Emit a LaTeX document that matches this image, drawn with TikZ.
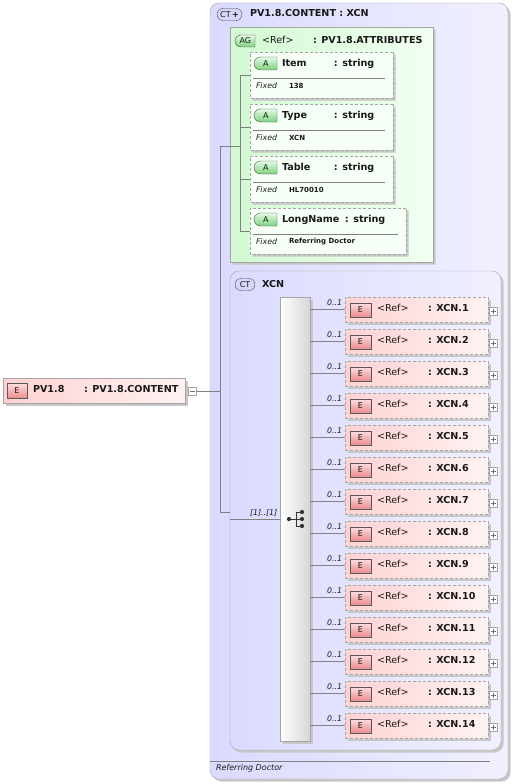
\documentclass[tikz,border=0pt]{standalone}
\usepackage{fontspec}
\setmainfont{DejaVu Sans}
\usetikzlibrary{shapes.misc,shadows}

\definecolor{ctfillA}{RGB}{218,218,255}
\definecolor{ctfillB}{RGB}{240,240,255}
\definecolor{ctbadge}{RGB}{214,214,250}
\definecolor{agfillA}{RGB}{210,250,210}
\definecolor{agfillB}{RGB}{242,255,242}
\definecolor{atfill}{RGB}{246,255,246}
\definecolor{elfillA}{RGB}{255,210,210}
\definecolor{elfillB}{RGB}{255,242,242}
\definecolor{linegray}{RGB}{128,128,128}
\definecolor{boxgray}{RGB}{165,165,165}
\definecolor{txt}{RGB}{25,25,25}

\begin{document}
\begin{tikzpicture}[x=1pt,y=-1pt]
\tikzset{ every node/.style={inner sep=0pt, outer sep=0pt, text=txt},
  shadowed/.style={drop shadow={shadow xshift=2.5pt, shadow yshift=-2.5pt, fill=black!22, opacity=1}},
  ctbox/.style={rectangle, rounded corners=9pt, draw=boxgray, left color=ctfillA, right color=ctfillB, shadowed, anchor=north west},
  agbox/.style={chamfered rectangle, chamfered rectangle corners={north west,south west}, chamfered rectangle sep=7pt, draw=boxgray, left color=agfillA, right color=agfillB, shadowed, anchor=north west},
  atbox/.style={chamfered rectangle, chamfered rectangle corners={north west,south west}, chamfered rectangle sep=6pt, draw=boxgray, dashed, dash pattern=on 3pt off 2pt, fill=atfill, shadowed, anchor=north west, minimum height=46pt},
  elbox/.style={rectangle, draw=boxgray, dashed, dash pattern=on 3pt off 2pt, left color=elfillA, right color=elfillB, shadowed, anchor=north west, minimum width=143pt, minimum height=25pt},
  seqbar/.style={rectangle, draw=boxgray, left color=white, right color=black!16, shadowed, anchor=north west},
  ctbdg/.style={rounded rectangle, draw=black!70, fill=ctbadge, minimum height=12pt, anchor=west, font=\fontsize{8}{9}\selectfont},
  abdg/.style={rounded rectangle, rounded rectangle right arc=none, draw=black!70, top color={rgb,255:red,228;green,252;blue,228}, bottom color={rgb,255:red,125;green,208;blue,125}, minimum height=13pt, anchor=west, font=\fontsize{8}{9}\selectfont},
  ebdg/.style={rectangle, draw=black!65, top color={rgb,255:red,255;green,222;blue,222}, bottom color={rgb,255:red,236;green,138;blue,138}, minimum width=21pt, minimum height=14pt, anchor=west, font=\fontsize{8}{9}\selectfont},
  lbl/.style={anchor=west, font=\fontsize{9.6}{11}\selectfont},
  lblb/.style={anchor=west, font=\fontsize{9.6}{11}\selectfont\bfseries},
  fixd/.style={anchor=west, font=\fontsize{7.8}{9}\selectfont\itshape},
  fval/.style={anchor=west, font=\fontsize{7}{8}\selectfont\bfseries},
  occ/.style={anchor=east, font=\fontsize{7.8}{9}\selectfont\itshape},
  conn/.style={draw=linegray, line width=0.6pt},
  sep/.style={draw=linegray, line width=0.5pt},
  plusbox/.style={rectangle, draw=black!35, fill=white, minimum size=8pt,
    path picture={\draw[black!55, line width=0.5pt] ([xshift=1.5pt]path picture bounding box.west) -- ([xshift=-1.5pt]path picture bounding box.east);
                  \draw[black!55, line width=0.5pt] ([yshift=1.5pt]path picture bounding box.south) -- ([yshift=-1.5pt]path picture bounding box.north);}},
  minusbox/.style={rectangle, draw=black!35, fill=white, minimum size=8pt,
    path picture={\draw[black!55, line width=0.5pt] ([xshift=1.5pt]path picture bounding box.west) -- ([xshift=-1.5pt]path picture bounding box.east);}},
}
\useasboundingbox (0,0) rectangle (514,784);

% outer complex type
\node [ctbox, minimum width=298pt, minimum height=776pt] (PVC) at (210,3) {};
\node [ctbdg, minimum width=25pt] (PVCb) at (217,14.5) {CT\,\textbf{+}};
\node [lblb] at (250,13.5) {PV1.8.CONTENT : XCN};
\draw [sep] (210,761) -- (490,761);
\node [fixd, font=\fontsize{8}{9}\selectfont\itshape] at (216,768.5) {Referring Doctor};

% attribute group
\node [agbox, minimum width=203pt, minimum height=235pt] (AG) at (230,27) {};
\node [abdg, minimum width=20pt, minimum height=12pt] (AGb) at (235,41) {AG};
\node [lbl] at (262,39.5) {\makebox[51pt][l]{<Ref>}\bfseries : PV1.8.ATTRIBUTES};

\node [atbox, minimum width=143pt] (I1) at (250,52) {};
\node [abdg, minimum width=23pt] at (254,63.5) {A};
\node [lblb] at (282,63.5) {\makebox[52pt][l]{Item}: string};
\draw [sep] (253,78) -- (385,78);
\node [fixd] at (256,86) {Fixed};
\node [fval] at (289,86) {138};

\node [atbox, minimum width=143pt] (I2) at (250,104) {};
\node [abdg, minimum width=23pt] at (254,115.5) {A};
\node [lblb] at (282,115.5) {\makebox[52pt][l]{Type}: string};
\draw [sep] (253,130) -- (385,130);
\node [fixd] at (256,138) {Fixed};
\node [fval] at (289,138) {XCN};

\node [atbox, minimum width=143pt] (I3) at (250,156) {};
\node [abdg, minimum width=23pt] at (254,167.5) {A};
\node [lblb] at (282,167.5) {\makebox[52pt][l]{Table}: string};
\draw [sep] (253,182) -- (385,182);
\node [fixd] at (256,190) {Fixed};
\node [fval] at (289,190) {HL70010};

\node [atbox, minimum width=156pt] (I4) at (250,208) {};
\node [abdg, minimum width=23pt] at (254,219.5) {A};
\node [lblb] at (282,219.5) {\makebox[63pt][l]{LongName}: string};
\draw [sep] (253,234) -- (398,234);
\node [fixd] at (256,242) {Fixed};
\node [fval] at (289,242) {Referring Doctor};

\coordinate (bus) at (240,146);
\draw [conn] (bus |- I1.west) -- (I1.west);
\draw [conn] (bus |- I2.west) -- (I2.west);
\draw [conn] (bus |- I3.west) -- (I3.west);
\draw [conn] (bus |- I4.west) -- (I4.west);
\draw [conn] (bus |- I1.west) -- (bus |- I4.west);

% content model XCN
\node [ctbox, minimum width=271pt, minimum height=479pt] (XCN) at (230,271) {};
\node [ctbdg, minimum width=20pt] (XCNb) at (235,284.5) {CT};
\node [lblb] at (262,284) {XCN};
\node [seqbar, minimum width=30pt, minimum height=444pt] (SEQ) at (280,297) {};

% the element itself
\node [rectangle, draw=boxgray, left color=elfillA, right color=elfillB, shadowed, anchor=north west, minimum width=182pt, minimum height=25pt] (PV) at (3,378) {};
\node [ebdg, minimum width=20pt, minimum height=15pt] at (7,391) {E};
\node [lblb] at (33,389) {\makebox[51pt][l]{PV1.8}: PV1.8.CONTENT};
\node [minusbox] (PVm) at (192,391) {};

\coordinate (trunk) at (220,146);
\draw [conn] (PVm.east) -- (trunk |- PVm.east);
\draw [conn] (bus) -- (trunk) -- (220,512) -- (XCN.west |- 0,512);
\draw [conn] (XCN.west |- 0,519) -- (SEQ.west |- 0,519);
\node [occ, anchor=west] at (250,513) {[1]..[1]};

% sequence symbol
\fill [black!80] (289,519) circle (2.1pt);
\draw [black!80, line width=0.9pt] (289,519) -- (296,519);
\draw [black!80, line width=0.9pt] (296,512) -- (296,526);
\draw [black!80, line width=0.9pt] (296,512) -- (302,512);
\draw [black!80, line width=0.9pt] (296,519) -- (302,519);
\draw [black!80, line width=0.9pt] (296,526) -- (302,526);
\fill [black!80] (302,512) circle (2.1pt);
\fill [black!80] (302,519) circle (2.1pt);
\fill [black!80] (302,526) circle (2.1pt);

% children
\node [elbox] (X1) at (345,297) {};
\node [ebdg] at (350,310) {E};
\node [lbl] at (377,308) {\makebox[51pt][l]{<Ref>}\bfseries : XCN.1};
\node [plusbox] at (493,311) {};
\node [occ] at (342,303) {0..1};
\draw [conn] (SEQ.east |- X1.west) -- (X1.west);

\node [elbox] (X2) at (345,329) {};
\node [ebdg] at (350,342) {E};
\node [lbl] at (377,340) {\makebox[51pt][l]{<Ref>}\bfseries : XCN.2};
\node [plusbox] at (493,343) {};
\node [occ] at (342,335) {0..1};
\draw [conn] (SEQ.east |- X2.west) -- (X2.west);

\node [elbox] (X3) at (345,361) {};
\node [ebdg] at (350,374) {E};
\node [lbl] at (377,372) {\makebox[51pt][l]{<Ref>}\bfseries : XCN.3};
\node [plusbox] at (493,375) {};
\node [occ] at (342,367) {0..1};
\draw [conn] (SEQ.east |- X3.west) -- (X3.west);

\node [elbox] (X4) at (345,393) {};
\node [ebdg] at (350,406) {E};
\node [lbl] at (377,404) {\makebox[51pt][l]{<Ref>}\bfseries : XCN.4};
\node [plusbox] at (493,407) {};
\node [occ] at (342,399) {0..1};
\draw [conn] (SEQ.east |- X4.west) -- (X4.west);

\node [elbox] (X5) at (345,425) {};
\node [ebdg] at (350,438) {E};
\node [lbl] at (377,436) {\makebox[51pt][l]{<Ref>}\bfseries : XCN.5};
\node [plusbox] at (493,439) {};
\node [occ] at (342,431) {0..1};
\draw [conn] (SEQ.east |- X5.west) -- (X5.west);

\node [elbox] (X6) at (345,457) {};
\node [ebdg] at (350,470) {E};
\node [lbl] at (377,468) {\makebox[51pt][l]{<Ref>}\bfseries : XCN.6};
\node [plusbox] at (493,471) {};
\node [occ] at (342,463) {0..1};
\draw [conn] (SEQ.east |- X6.west) -- (X6.west);

\node [elbox] (X7) at (345,489) {};
\node [ebdg] at (350,502) {E};
\node [lbl] at (377,500) {\makebox[51pt][l]{<Ref>}\bfseries : XCN.7};
\node [plusbox] at (493,503) {};
\node [occ] at (342,495) {0..1};
\draw [conn] (SEQ.east |- X7.west) -- (X7.west);

\node [elbox] (X8) at (345,521) {};
\node [ebdg] at (350,534) {E};
\node [lbl] at (377,532) {\makebox[51pt][l]{<Ref>}\bfseries : XCN.8};
\node [plusbox] at (493,535) {};
\node [occ] at (342,527) {0..1};
\draw [conn] (SEQ.east |- X8.west) -- (X8.west);

\node [elbox] (X9) at (345,553) {};
\node [ebdg] at (350,566) {E};
\node [lbl] at (377,564) {\makebox[51pt][l]{<Ref>}\bfseries : XCN.9};
\node [plusbox] at (493,567) {};
\node [occ] at (342,559) {0..1};
\draw [conn] (SEQ.east |- X9.west) -- (X9.west);

\node [elbox] (X10) at (345,585) {};
\node [ebdg] at (350,598) {E};
\node [lbl] at (377,596) {\makebox[51pt][l]{<Ref>}\bfseries : XCN.10};
\node [plusbox] at (493,599) {};
\node [occ] at (342,591) {0..1};
\draw [conn] (SEQ.east |- X10.west) -- (X10.west);

\node [elbox] (X11) at (345,617) {};
\node [ebdg] at (350,630) {E};
\node [lbl] at (377,628) {\makebox[51pt][l]{<Ref>}\bfseries : XCN.11};
\node [plusbox] at (493,631) {};
\node [occ] at (342,623) {0..1};
\draw [conn] (SEQ.east |- X11.west) -- (X11.west);

\node [elbox] (X12) at (345,649) {};
\node [ebdg] at (350,662) {E};
\node [lbl] at (377,660) {\makebox[51pt][l]{<Ref>}\bfseries : XCN.12};
\node [plusbox] at (493,663) {};
\node [occ] at (342,655) {0..1};
\draw [conn] (SEQ.east |- X12.west) -- (X12.west);

\node [elbox] (X13) at (345,681) {};
\node [ebdg] at (350,694) {E};
\node [lbl] at (377,692) {\makebox[51pt][l]{<Ref>}\bfseries : XCN.13};
\node [plusbox] at (493,695) {};
\node [occ] at (342,687) {0..1};
\draw [conn] (SEQ.east |- X13.west) -- (X13.west);

\node [elbox] (X14) at (345,713) {};
\node [ebdg] at (350,726) {E};
\node [lbl] at (377,724) {\makebox[51pt][l]{<Ref>}\bfseries : XCN.14};
\node [plusbox] at (493,727) {};
\node [occ] at (342,719) {0..1};
\draw [conn] (SEQ.east |- X14.west) -- (X14.west);

\end{tikzpicture}
\end{document}
